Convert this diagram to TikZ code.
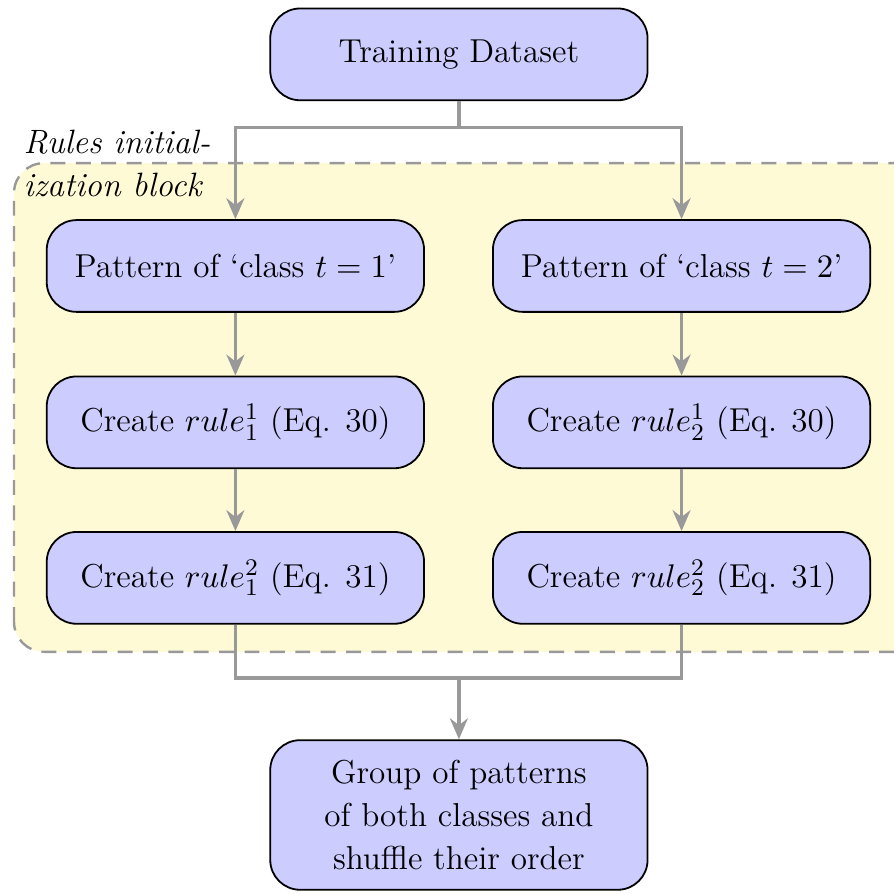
\documentclass[tikz,border=0pt]{standalone}
\usepackage{amsmath,amssymb}
\usepackage{tikz}
\usepackage{xcolor}
\usetikzlibrary{arrows.meta}
\definecolor{boxblue}{RGB}{204,204,255}
\definecolor{blockyel}{RGB}{255,250,214}

\begin{document}
\begin{tikzpicture}[
  box/.style={draw,semithick,fill=boxblue,rounded corners=10pt,minimum width=4.44cm,minimum height=1.08cm,align=center,font={\fontsize{11.1}{14.4}\selectfont}},
  conn/.style={very thick,gray!80},
  arr/.style={conn,-{Stealth[length=7pt,width=6pt]}}]
  \useasboundingbox (0,0) rectangle (10.52,10.51);
  % rules initialization block
  \draw[thick,gray!80,dash pattern=on 5pt off 3.5pt,fill=blockyel,rounded corners=10pt] (0.165,2.84) rectangle (10.9,8.59);
  \node[anchor=west,align=left,inner sep=2pt,font={\itshape\fontsize{11.3}{14.4}\selectfont}] (lbl) at (0.2,8.59) {Rules initial-\\ization block};
  % boxes
  \node[box] (train) at (5.40,9.87) {Training Dataset};
  \node[box] (p1) at (2.77,7.38) {Pattern of `class $t=1$'};
  \node[box] (p2) at (8.02,7.38) {Pattern of `class $t=2$'};
  \node[box] (r1) at (2.77,5.54) {Create $rule_1^1$ (Eq. 30)};
  \node[box] (r2) at (8.02,5.54) {Create $rule_2^1$ (Eq. 30)};
  \node[box] (c1) at (2.77,3.71) {Create $rule_1^2$ (Eq. 31)};
  \node[box] (c2) at (8.02,3.71) {Create $rule_2^2$ (Eq. 31)};
  \node[box,minimum height=1.76cm] (grp) at (5.40,0.92) {Group of patterns\\of both classes and\\shuffle their order};
  % connectors
  \coordinate (split) at (5.40,9.01);
  \coordinate (merge) at (5.40,2.53);
  \draw[conn] (train.south) -- (split);
  \draw[arr] (split) -| (p1.north);
  \draw[arr] (split) -| (p2.north);
  \draw[arr] (p1) -- (r1); \draw[arr] (r1) -- (c1);
  \draw[arr] (p2) -- (r2); \draw[arr] (r2) -- (c2);
  \draw[conn] (c1.south) |- (merge) -| (c2.south);
  \draw[arr] (merge) -- (grp.north);
\end{tikzpicture}
\end{document}
